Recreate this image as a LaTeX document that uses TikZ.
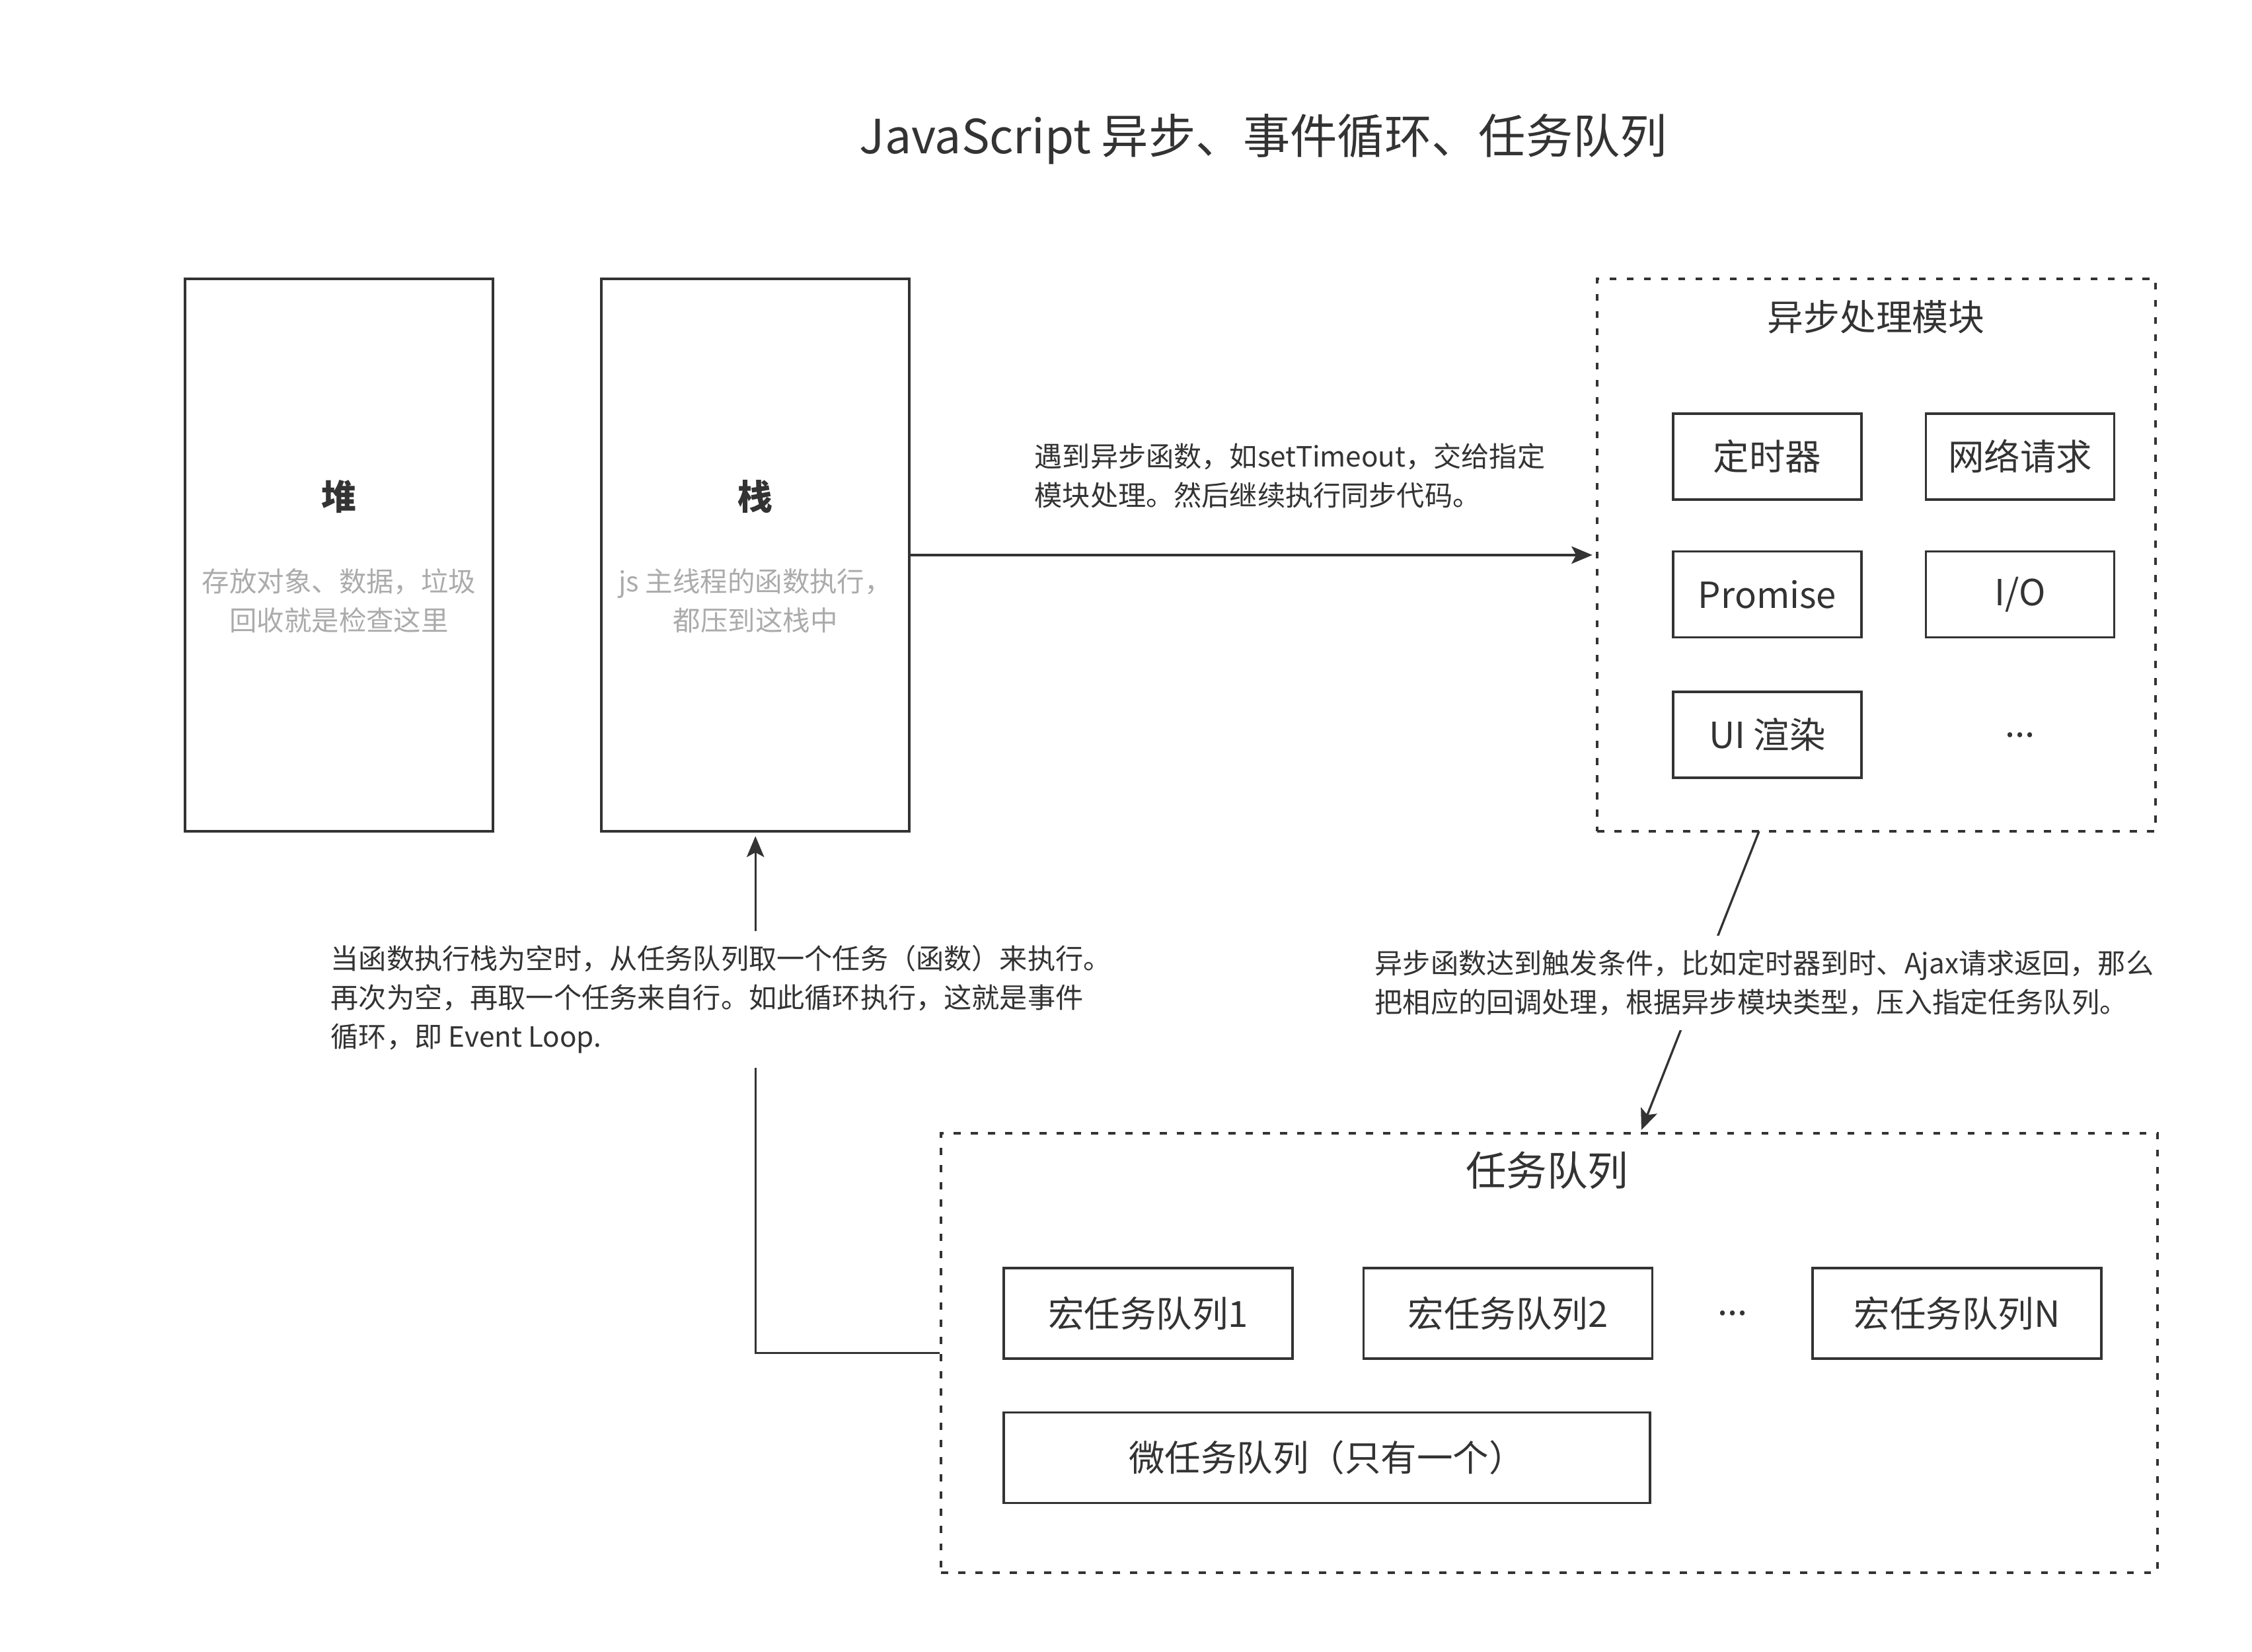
\documentclass[tikz,border=0pt]{standalone}
\usepackage{fontspec}
\setmainfont{Noto Sans CJK SC}
\usepackage{tikz}
\usetikzlibrary{arrows.meta,positioning}

\definecolor{inkgray}{HTML}{333333}
\definecolor{softgray}{HTML}{ABABAB}

\begin{document}
\begin{tikzpicture}[
    every node/.style={text=inkgray},
    memory/.style={draw=inkgray, line width=1.2pt, minimum width=4.66cm, minimum height=8.36cm},
    zone/.style={draw=inkgray, line width=1.1pt, dash pattern=on 3pt off 4.4pt},
    modbox/.style={draw=inkgray, line width=1pt, minimum width=2.85cm, minimum height=1.30cm, font=\fontsize{15.5}{18}\selectfont},
    qbox/.style={modbox, minimum width=4.37cm, minimum height=1.37cm},
    heading/.style={font=\fontsize{15}{18}\selectfont\bfseries},
    hint/.style={align=center, text=softgray, font=\fontsize{11.8}{16.8}\selectfont},
    arrow/.style={-{Stealth[length=9pt, width=7.5pt, inset=2pt]}, line width=0.95pt, draw=inkgray, shorten >=1.5pt},
    note/.style={align=left, anchor=west, inner sep=0.22cm, font=\fontsize{12}{16.8}\selectfont}
]
\useasboundingbox (0,0) rectangle (34.08,25);

% Title
\node[font=\fontsize{20.3}{24}\selectfont] (title) at (19.12,22.89) {JavaScript 异步、事件循环、任务队列};

% Memory: heap and call stack
\node[memory] (heap) at (5.13,16.60) {};
\node[memory, right=1.60cm of heap] (stack) {};
\node[heading] (heaptitle) at ([yshift=0.88cm]heap.center) {堆};
\node[hint] (heaphint) at ([yshift=-0.695cm]heap.center) {存放对象、数据，垃圾\\回收就是检查这里};
\node[heading] (stacktitle) at ([yshift=0.88cm]stack.center) {栈};
\node[hint] (stackhint) at ([yshift=-0.695cm]stack.center) {js 主线程的函数执行，\\都压到这栈中};

% Async module
\node[zone, minimum width=8.45cm, minimum height=8.36cm] (async) at (28.395,16.60) {};
\node[font=\fontsize{15.6}{18}\selectfont] (asynctitle) at (28.39,20.20) {异步处理模块};
\node[modbox] (timer) at (26.745,18.09) {定时器};
\node[modbox, right=0.94cm of timer] (netreq) {网络请求};
\node[modbox, below=0.75cm of timer] (promise) {Promise};
\node[modbox, below=0.75cm of netreq] (io) {I/O};
\node[modbox, below=0.79cm of promise] (uirender) {UI 渲染};
\node[modbox, draw=none, right=0.94cm of uirender] (moremods) {...};

% Task queue
\node[zone, minimum width=18.41cm, minimum height=6.65cm] (tasks) at (23.445,4.525) {};
\node[font=\fontsize{17.5}{20}\selectfont] (taskstitle) at (23.41,7.29) {任务队列};
\node[qbox] (macro1) at (17.375,5.125) {宏任务队列1};
\node[qbox, right=1.04cm of macro1] (macro2) {宏任务队列2};
\node[qbox, right=2.39cm of macro2] (macroN) {宏任务队列N};
\path (macro2) -- node[font=\fontsize{15.5}{18}\selectfont] (moremacros) {...} (macroN);
\node[qbox, minimum width=9.78cm, below right=0.78cm and 0cm of macro1.south west] (micro) {微任务队列（只有一个）};

% Connectors
\coordinate (asyncout) at (26.62,12.42);
\coordinate (tasksin) at (24.82,7.85);
\draw[arrow] (stack) -- (async);
\draw[arrow] (asyncout) -- (tasksin);
\draw[arrow] (tasks.west) -| (stack.south);

% Annotations
\node[note] (syncnote) at (15.43,17.80) {遇到异步函数，如setTimeout，交给指定\\模块处理。然后继续执行同步代码。};
\node[note, fill=white] (callbacknote) at (20.58,10.125) {异步函数达到触发条件，比如定时器到时、Ajax请求返回，那么\\把相应的回调处理，根据异步模块类型，压入指定任务队列。};
\node[note, fill=white] (loopnote) at (4.78,9.875) {当函数执行栈为空时，从任务队列取一个任务（函数）来执行。\\再次为空，再取一个任务来自行。如此循环执行，这就是事件\\循环，即 Event Loop.};
\end{tikzpicture}
\end{document}
